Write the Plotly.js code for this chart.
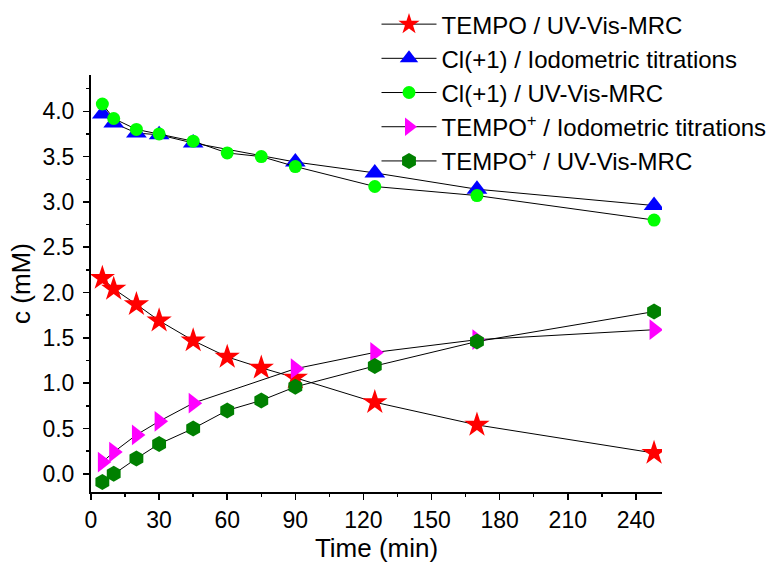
<!DOCTYPE html>
<html>
<head>
<meta charset="utf-8">
<script src="https://cdn.plot.ly/plotly-3.0.1.min.js"></script>
<style>html,body{margin:0;padding:0;background:#fff;}#chart{width:778px;height:564px;}</style>
</head>
<body>
<div id="chart"></div>
<script>
// Data
const timeFull = [5, 10, 20, 30, 45, 60, 75, 90, 125, 170, 248];
const timeTitr = [5, 10, 20, 30, 45, 90, 125, 170, 248];

const tempoUV = [2.16, 2.04, 1.87, 1.69, 1.47, 1.29, 1.17, 1.06, 0.79, 0.54, 0.23];
const clIodo = [3.97, 3.87, 3.76, 3.74, 3.65, 3.44, 3.32, 3.14, 2.96];
const clUV = [4.08, 3.92, 3.80, 3.75, 3.67, 3.54, 3.50, 3.39, 3.17, 3.07, 2.80];
const tempoPlusIodo = [0.13, 0.24, 0.43, 0.58, 0.78, 1.16, 1.34, 1.48, 1.59];
const tempoPlusUV = [-0.09, 0.0, 0.17, 0.33, 0.50, 0.70, 0.81, 0.96, 1.19, 1.46, 1.79];

const names = [
  'TEMPO / UV-Vis-MRC',
  'Cl(+1) / Iodometric titrations',
  'Cl(+1) / UV-Vis-MRC',
  'TEMPO<sup>+</sup> / Iodometric titrations',
  'TEMPO<sup>+</sup> / UV-Vis-MRC'
];
const xTicks = [0, 30, 60, 90, 120, 150, 180, 210, 240];

const FONT = 'Liberation Sans, Arial, sans-serif';
function tr(x, y, name, symbol, color, size) {
  return {
    x: x, y: y, name: name, type: 'scatter', mode: 'lines+markers',
    line: {color: '#000', width: 1},
    marker: {symbol: symbol, color: color, size: size, line: {width: 0}}
  };
}
const data = [
  tr(timeFull, tempoUV, names[0], 'star', '#FF0000', 19),
  tr(timeTitr, clIodo, names[1], 'triangle-up', '#0000FF', 18),
  tr(timeFull, clUV, names[2], 'circle', '#00FF00', 13),
  tr(timeTitr, tempoPlusIodo, names[3], 'triangle-right', '#FF00FF', 18),
  tr(timeFull, tempoPlusUV, names[4], 'hexagon', '#008000', 16)
];

const layout = {
  width: 778, height: 564,
  paper_bgcolor: '#fff', plot_bgcolor: '#fff',
  margin: {l: 91, r: 116, t: 75, b: 72, autoexpand: false},
  font: {family: FONT, color: '#000', size: 23},
  showlegend: true,
  legend: {
    x: 0.5, y: 1.175, xanchor: 'left', yanchor: 'top',
    bgcolor: 'rgba(0,0,0,0)', borderwidth: 0,
    font: {family: FONT, size: 24, color: '#000'},
    itemwidth: 55,
    tracegroupgap: 0
  },
  xaxis: {
    range: [0, 251.5],
    tickvals: xTicks,
    ticktext: xTicks.map(String),
    ticks: 'outside', ticklen: 6, tickwidth: 1.5, tickcolor: '#000',
    minor: {dtick: 15, tick0: 0, ticks: 'outside', ticklen: 3, tickwidth: 1.5, tickcolor: '#000', showgrid: false},
    showline: true, linecolor: '#000', linewidth: 2,
    showgrid: false, zeroline: false,
    tickfont: {family: FONT, size: 23},
    title: {text: 'Time (min)', font: {family: FONT, size: 26}, standoff: 6},
    automargin: false
  },
  yaxis: {
    range: [-0.2, 4.4],
    tick0: 0, dtick: 0.5, tickformat: '.1f',
    ticks: 'outside', ticklen: 6, tickwidth: 1.5, tickcolor: '#000',
    minor: {dtick: 0.25, tick0: 0, ticks: 'outside', ticklen: 3, tickwidth: 1.5, tickcolor: '#000', showgrid: false},
    showline: true, linecolor: '#000', linewidth: 2,
    showgrid: false, zeroline: false,
    ticklabelstandoff: 4,
    tickfont: {family: FONT, size: 23},
    title: {text: 'c (mM)', font: {family: FONT, size: 26}, standoff: 4},
    automargin: false
  }
};
Plotly.newPlot('chart', data, layout, {displayModeBar: false, staticPlot: true});
</script>
</body>
</html>
